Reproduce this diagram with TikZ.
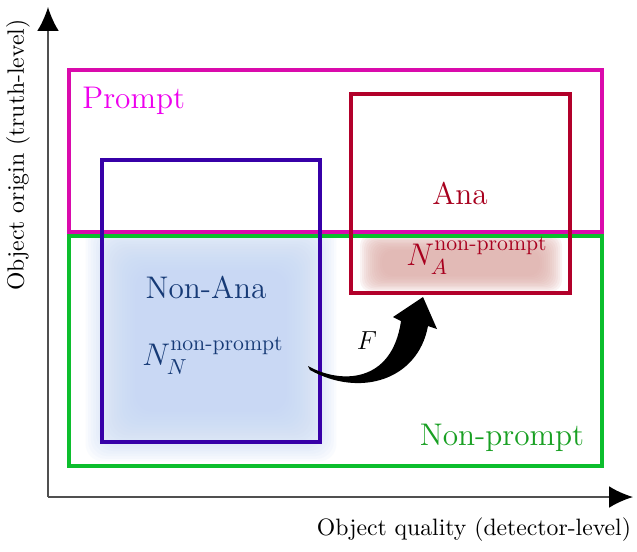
\documentclass[tikz,border=0pt]{standalone}
\usepackage{amsmath}
\usetikzlibrary{arrows.meta}
\definecolor{prbox}{RGB}{218,10,172}
\definecolor{prtext}{RGB}{238,0,238}
\definecolor{npbox}{RGB}{12,190,45}
\definecolor{nptext}{RGB}{25,160,35}
\definecolor{nabox}{RGB}{55,0,168}
\definecolor{natext}{RGB}{22,58,118}
\definecolor{anbox}{RGB}{178,0,42}
\definecolor{antext}{RGB}{168,0,30}
\definecolor{blueglow}{RGB}{196,215,244}
\definecolor{redglow}{RGB}{224,176,172}
\definecolor{axisgray}{RGB}{80,80,80}
\begin{document}
\begin{tikzpicture}[x=0.46pt,y=-0.46pt,
  axisline/.style={draw=axisgray,line width=0.9pt,-{Latex[length=11pt,width=10pt,black]}},
  regionbox/.style={line width=#1},
  lbl/.style={inner sep=0pt,font=\Large},
  axlbl/.style={inner sep=0pt,font=\fontsize{10.9}{13}\selectfont}]
\useasboundingbox (0,0) rectangle (637,551);
\fill[white] (0,0) rectangle (637,551);
% glows
\begin{scope}
\clip (69,236) rectangle (602,466);
\foreach \i in {0,...,19}{
  \fill[blueglow,opacity=0.09,rounded corners=8pt] ({135-2.6*\i},{270-2.6*\i}) rectangle ({287+2.6*\i},{412+2.6*\i});
}
\foreach \i in {0,...,11}{
  \fill[redglow,opacity=0.14,rounded corners=5pt] ({382-2*\i},{250-1.4*\i}) rectangle ({540+2*\i},{276+1.4*\i});
}
\end{scope}
% boxes
\draw[prbox,regionbox=1.8pt] (69,70) rectangle (602,232);
\draw[npbox,regionbox=2.2pt] (69,236) rectangle (602,466);
\draw[nabox,regionbox=1.7pt] (102,160) rectangle (320,442);
\draw[anbox,regionbox=1.5pt] (351,94) rectangle (570,293);
% axes
\coordinate (O) at (48,497);
\coordinate (ytip) at (48,7);
\coordinate (xtip) at (633,497);
\draw[axisline] (O) -- (ytip);
\draw[axisline] (O) -- (xtip);
% labels
\node[lbl,prtext,anchor=west] (prompt) at (82,101) {Prompt};
\node[lbl,antext] (ana) at (460,193) {Ana};
\node[lbl,natext] (nonana) at (206,287) {Non-Ana};
\node[lbl,natext,anchor=west] (nn) at (142,356) {$N_N^{\text{non-prompt}}$};
\node[lbl,antext,anchor=west] (na) at (406,256) {$N_A^{\text{non-prompt}}$};
\node[lbl,nptext] (np) at (502,438) {Non-prompt};
\node[lbl,font=\large] (f) at (367,341) {$F$};
\node[axlbl] (xl) at (474,530) {Object quality (detector-level)};
\node[axlbl,rotate=90] (yl) at (18,155) {Object origin (truth-level)};
% curved arrow F
\fill[black] (308,366) .. controls (340,384) and (392,384) .. (401,321)
  -- (393,317) -- (423,297) -- (437,329) -- (428,326)
  .. controls (418,380) and (360,398) .. (310,370) -- cycle;
\end{tikzpicture}
\end{document}
